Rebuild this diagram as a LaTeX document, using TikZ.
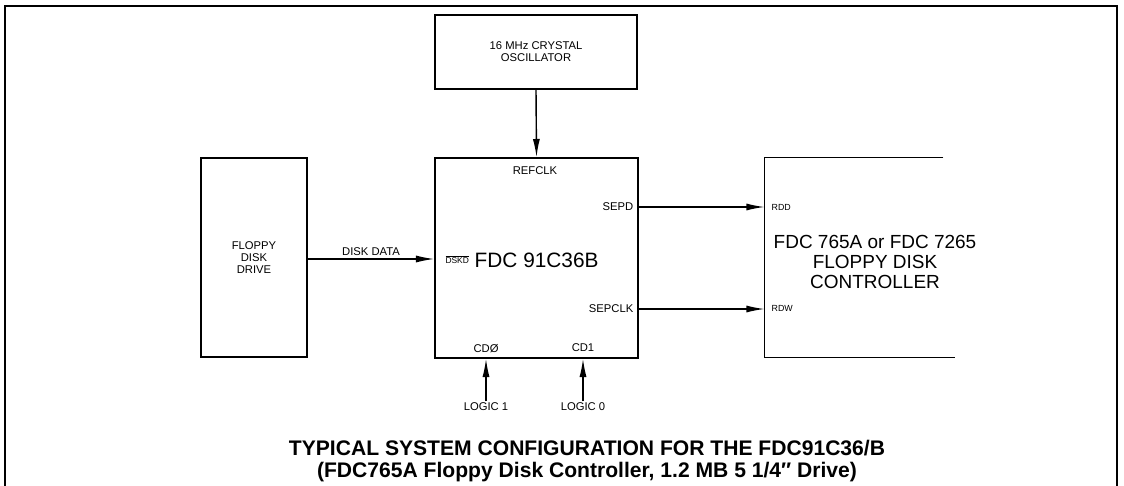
\documentclass[tikz,border=0pt]{standalone}
\usepackage{fontspec}
\setmainfont{Liberation Sans}
\usetikzlibrary{arrows.meta,positioning}

\begin{document}
\begin{tikzpicture}[
    x=0.025cm,y=-0.025cm,
    >={Latex[length=13pt,width=5pt]},
    box/.style={draw,line width=1pt,inner sep=0pt,align=center,
                font=\fontsize{8}{8.5}\selectfont},
    pin/.style={inner sep=1pt,font=\fontsize{8}{9}\selectfont},
    tinypin/.style={inner sep=1pt,font=\fontsize{6.3}{7}\selectfont},
    arr/.style={->,line width=1pt},
    captionline/.style={inner sep=0pt,anchor=base,font=\bfseries\fontsize{15}{16}\selectfont},
  ]
  \useasboundingbox (0,0) rectangle (1124,486);

  %% Outer frame
  \draw[line width=1.6pt] (5,486) -- (5,6) -- (1117,6) -- (1117,486);

  %% Blocks
  \node[box,minimum width=5.05cm,minimum height=1.85cm]
    (osc) at (536,52) {16 MHz CRYSTAL\\OSCILLATOR};
  \node[box,minimum width=2.65cm,minimum height=4.975cm]
    (drive) at (254,257.5) {FLOPPY\\DISK\\DRIVE};
  \node[box,minimum width=5.075cm,minimum height=5cm]
    (fdc) at (536.5,258) {};
  \node[minimum width=4.75cm,minimum height=4.975cm,inner sep=0pt]
    (ctrl) at (860,257.5) {};

  %% Controller: open on the right
  \draw[line width=1pt] ([xshift=-0.3cm]ctrl.north east) -- (ctrl.north west)
    -- (ctrl.south west) -- (ctrl.south east);

  %% Block titles
  \node[inner sep=0pt,font=\fontsize{14.8}{16}\selectfont]
    (fdcname) at (522,260)
    {\raisebox{2.5pt}{\fontsize{6}{7}\selectfont$\overline{\mbox{DSKD}}$} FDC 91C36B};
  \node[inner sep=0pt,align=center,font=\fontsize{13.5}{14.2}\selectfont]
    (ctrlname) at (875,262) {FDC 765A or FDC 7265\\FLOPPY DISK\\CONTROLLER};

  %% Pin labels
  \node[pin] (refclk) at (535,171) {REFCLK};
  \node[pin,anchor=east] (sepd) at (635,207) {SEPD};
  \node[pin,anchor=east] (sepclk) at (635,309) {SEPCLK};
  \node[pin] (cd0) at (486,349) {CDØ};
  \node[pin] (cd1) at (583,348) {CD1};
  \node[tinypin,anchor=west] (rdd) at (770,207) {RDD};
  \node[tinypin,anchor=west] (rdw) at (770,308) {RDW};

  %% Logic levels
  \node[pin] (logic1) at (486,407) {LOGIC 1};
  \node[pin] (logic0) at (583,407) {LOGIC 0};

  %% Connections
  \draw[arr] (osc.south) -- (fdc.north);
  \draw[arr] (drive.east |- 0,259) -- node[pin,above,yshift=1pt]{DISK DATA}
    (fdc.west |- 0,259);
  \draw[arr] (sepd.east -| fdc.east) -- (sepd.east -| ctrl.west);
  \draw[arr] (sepclk.east -| fdc.east) -- (sepclk.east -| ctrl.west);
  \draw[arr] (logic1.north) -- (logic1.north |- fdc.south);
  \draw[arr] (logic0.north) -- (logic0.north |- fdc.south);

  %% Caption
  \node[captionline] (caption1) at (587,455)
    {TYPICAL SYSTEM CONFIGURATION FOR THE FDC91C36/B};
  \node[captionline] (caption2) at (587,477)
    {(FDC765A Floppy Disk Controller, 1.2 MB 5 1/4″ Drive)};
\end{tikzpicture}
\end{document}
